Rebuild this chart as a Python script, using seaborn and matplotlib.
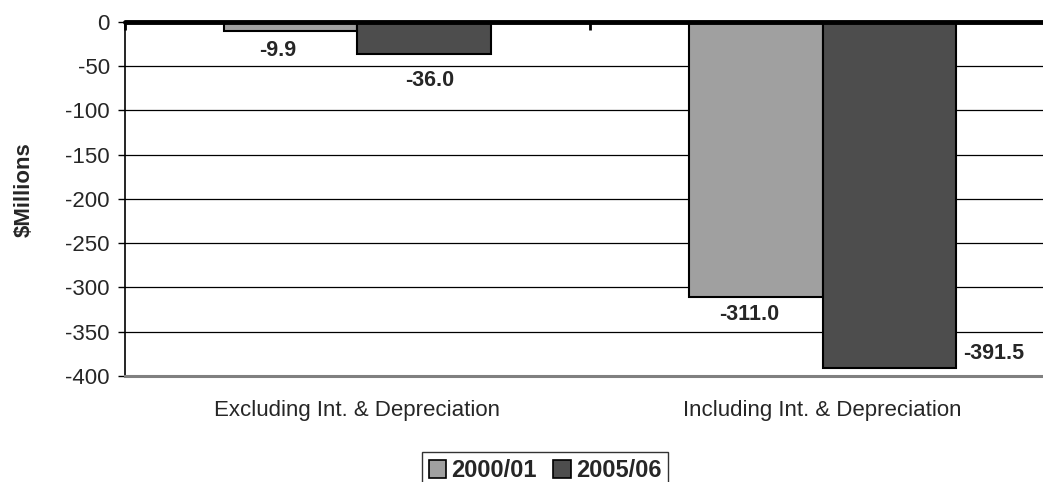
import pandas as pd
import seaborn as sns
import matplotlib.pyplot as plt
from matplotlib.patches import Patch

# data
categories = ['Excluding Int. & Depreciation', 'Including Int. & Depreciation']
years = ['2000/01', '2005/06']
values_2000 = [-9.9, -311.0]
values_2005 = [-36.0, -391.5]
colors = ['#A0A0A0', '#4D4D4D']

df = pd.DataFrame({
    'category': categories * 2,
    'year': [years[0]] * 2 + [years[1]] * 2,
    'value': values_2000 + values_2005,
})

sns.set_style('white')
plt.rcParams['font.family'] = ['Liberation Sans', 'DejaVu Sans']
plt.rcParams['axes.unicode_minus'] = False

fig = plt.figure(figsize=(10.43, 4.82), dpi=100)
ax = fig.add_axes([0.1198, 0.22, 0.8802, 0.7344])

sns.barplot(data=df, x='category', y='value', hue='year', order=categories,
            hue_order=years, palette=colors, width=0.575, saturation=1,
            edgecolor='black', linewidth=1.5, ax=ax, legend=False, zorder=3)

ax.set_yticks(range(-400, 1, 50))
ax.set_xticks([-0.5, 0.5, 1.5], minor=True)
ax.set_ylim(-400, 0)
ax.set_xlim(-0.5, 1.474)
ax.yaxis.grid(True, color='black', linewidth=0.9, zorder=0)
ax.set_axisbelow(True)

# zero line / category axis
ax.axhline(0, color='black', linewidth=3.5, zorder=5, clip_on=False)

for side in ['top', 'right']:
    ax.spines[side].set_visible(False)
ax.spines['left'].set_color('black')
ax.spines['left'].set_linewidth(1.2)
ax.spines['bottom'].set_color('#808080')
ax.spines['bottom'].set_linewidth(2.2)

ax.tick_params(axis='y', which='major', left=True, length=5, width=1,
               color='black', labelsize=16, pad=6)
ax.tick_params(axis='x', which='major', length=0, labelsize=16, pad=17)
ax.tick_params(axis='x', which='minor', top=True, bottom=False, direction='in',
               length=6, width=2, color='black')

ax.set_xlabel('')
ax.set_ylabel('$Millions', fontsize=16, fontweight='bold')
ax.yaxis.set_label_coords(-0.098, 0.525)

# data labels (offsets in points, like the hand-placed labels in the original)
offs = 0.575 / 4
label_pos = [
    (0 - offs, values_2000[0], (-9, -14.5), 'center'),
    (1 - offs, values_2000[1], (-5, -12.5), 'center'),
    (0 + offs, values_2005[0], (4, -19.5), 'center'),
    (1 + 2 * offs, values_2005[1], (5, 11), 'left'),
]
for x, v, xy, ha in label_pos:
    ax.annotate(f'{v:.1f}', (x, v), xytext=xy, textcoords='offset points',
                ha=ha, va='center', fontsize=15.5, fontweight='bold')

handles = [Patch(facecolor=c, edgecolor='black', linewidth=1.2) for c in colors]
leg = fig.legend(handles, years, loc='upper center', bbox_to_anchor=(0.5225, 0.062),
                 ncol=2, frameon=True, fancybox=False, edgecolor='black',
                 prop={'size': 17, 'weight': 'bold'}, handlelength=0.75,
                 handleheight=0.75, handletextpad=0.2, columnspacing=0.7,
                 borderpad=0.3, borderaxespad=0)
leg.get_frame().set_linewidth(1)

fig.savefig('out.png', dpi=100)
